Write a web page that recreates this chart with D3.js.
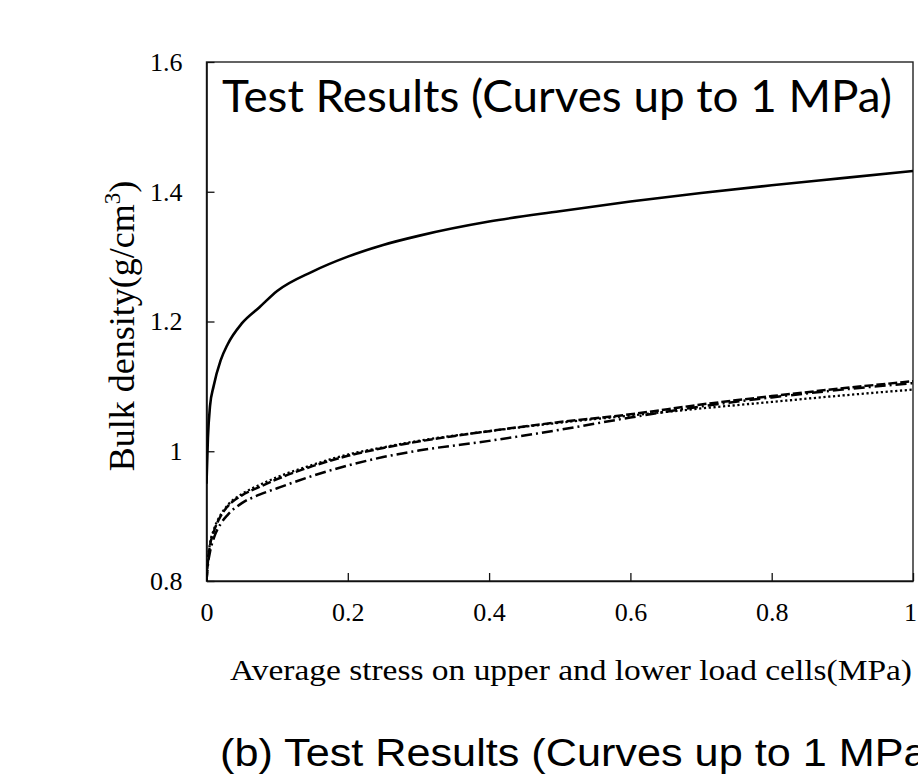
<!DOCTYPE html>
<html>
<head>
<meta charset="utf-8">
<script src="https://cdn.jsdelivr.net/npm/d3@7"></script>
<style>
  body { margin: 0; background: #fff; overflow: hidden; }
</style>
</head>
<body>
<svg id="chart" width="918" height="784"></svg>
<script>
// stress values (MPa) at which the curves were read
var stress = [0, 0.002, 0.005, 0.01, 0.02, 0.03, 0.05, 0.075, 0.1, 0.15, 0.2, 0.25, 0.3, 0.4, 0.5, 0.6, 0.7, 0.8, 0.9, 1.0];

// bulk density (g/cm3) for each test
var solidCurve   = [0.95, 1.02, 1.07, 1.10, 1.14, 1.165, 1.197, 1.222, 1.247, 1.277, 1.300, 1.318, 1.332, 1.354, 1.370, 1.385, 1.398, 1.410, 1.421, 1.432];
var dashedCurve  = [0.80, 0.83, 0.855, 0.875, 0.90, 0.915, 0.932, 0.945, 0.957, 0.977, 0.993, 1.005, 1.015, 1.031, 1.045, 1.057, 1.072, 1.085, 1.097, 1.108];
var dottedCurve  = [0.80, 0.832, 0.858, 0.878, 0.902, 0.917, 0.934, 0.948, 0.960, 0.979, 0.995, 1.006, 1.016, 1.031, 1.044, 1.055, 1.066, 1.076, 1.086, 1.095];
var dashDotCurve = [0.80, 0.825, 0.845, 0.865, 0.888, 0.902, 0.920, 0.933, 0.943, 0.962, 0.978, 0.991, 1.001, 1.016, 1.033, 1.052, 1.069, 1.083, 1.095, 1.105];

var xTicks = [0, 0.2, 0.4, 0.6, 0.8, 1];
var yTicks = [0.8, 1, 1.2, 1.4, 1.6];

var svg = d3.select("#chart");
var plotLeft = 206.5, plotRight = 913, plotTop = 62, plotBottom = 581;

var x = d3.scaleLinear().domain([0, 1]).range([plotLeft, plotRight]);
var y = d3.scaleLinear().domain([0.8, 1.6]).range([plotBottom, plotTop]);

// Plot frame
svg.append("rect")
  .attr("x", plotLeft).attr("y", plotTop)
  .attr("width", plotRight - plotLeft).attr("height", plotBottom - plotTop)
  .attr("fill", "none")
  .attr("stroke", "#222")
  .attr("stroke-width", 1.4);

// Axes with inward ticks
var xAxis = d3.axisBottom(x)
  .tickValues(xTicks)
  .tickSizeInner(-8).tickSizeOuter(0)
  .tickPadding(22)
  .tickFormat(d3.format("~g"));
var yAxis = d3.axisLeft(y)
  .tickValues(yTicks)
  .tickSizeInner(-8).tickSizeOuter(0)
  .tickPadding(24)
  .tickFormat(d3.format("~g"));

var gx = svg.append("g").attr("transform", `translate(0,${plotBottom})`).call(xAxis);
var gy = svg.append("g").attr("transform", `translate(${plotLeft},0)`).call(yAxis);

[gx, gy].forEach(function(g) {
  g.attr("font-size", 26).attr("font-family", "'Liberation Serif', 'Times New Roman', serif");
  g.select(".domain").attr("stroke", "#111").attr("stroke-width", 1.6);
  g.selectAll(".tick line").attr("stroke", "#111").attr("stroke-width", 1.3);
  g.selectAll(".tick text").attr("fill", "#000");
});
// last x label sits at the window edge, as in the original
gx.selectAll(".tick text").filter(d => d === 1).attr("dx", -3);

// Curves
var series = [
  {values: solidCurve,   dash: null,       width: 2.6},
  {values: dashedCurve,  dash: "9,3",      width: 2.5},
  {values: dottedCurve,  dash: "2.2,2.6",  width: 2.3},
  {values: dashDotCurve, dash: "11,4,2,4", width: 2.5}
];

var line = d3.line()
  .x(function(d) { return x(d[0]); })
  .y(function(d) { return y(d[1]); })
  .curve(d3.curveMonotoneX);

svg.append("defs").append("clipPath").attr("id", "plotClip")
  .append("rect")
  .attr("x", plotLeft).attr("y", plotTop)
  .attr("width", plotRight - plotLeft).attr("height", plotBottom - plotTop);

svg.append("g").attr("clip-path", "url(#plotClip)")
  .selectAll("path.curve")
  .data(series)
  .enter()
  .append("path")
  .attr("class", "curve")
  .attr("fill", "none")
  .attr("stroke", "#000")
  .attr("stroke-width", s => s.width)
  .attr("stroke-dasharray", s => s.dash)
  .attr("d", s => line(stress.map((v, i) => [v, s.values[i]])));

// Title inside the plot
svg.append("text")
  .attr("x", 222).attr("y", 112)
  .attr("font-family", "Lato, 'Open Sans', sans-serif")
  .attr("font-size", 45)
  .attr("textLength", 670)
  .attr("lengthAdjust", "spacingAndGlyphs")
  .attr("fill", "#000")
  .text("Test Results (Curves up to 1 MPa)");

// X axis title
svg.append("text")
  .attr("x", 230).attr("y", 680)
  .attr("font-family", "'Liberation Serif', 'Times New Roman', serif")
  .attr("font-size", 30)
  .attr("textLength", 682)
  .attr("lengthAdjust", "spacingAndGlyphs")
  .attr("fill", "#000")
  .text("Average stress on upper and lower load cells(MPa)");

// Y axis title
var yt = svg.append("text")
  .attr("transform", "translate(134,326) rotate(-90)")
  .attr("text-anchor", "middle")
  .attr("font-family", "'Liberation Serif', 'Times New Roman', serif")
  .attr("font-size", 36)
  .attr("fill", "#000");
yt.append("tspan").text("Bulk density(g/cm");
yt.append("tspan").attr("font-size", 23).attr("dy", -14).text("3");
yt.append("tspan").attr("dy", 14).text(")");

// Caption below the chart
svg.append("text")
  .attr("x", 220).attr("y", 766)
  .attr("font-family", "'Liberation Sans', Arial, sans-serif")
  .attr("font-size", 38)
  .attr("textLength", 722)
  .attr("lengthAdjust", "spacingAndGlyphs")
  .attr("fill", "#000")
  .text("(b) Test Results (Curves up to 1 MPa)");
</script>
</body>
</html>
